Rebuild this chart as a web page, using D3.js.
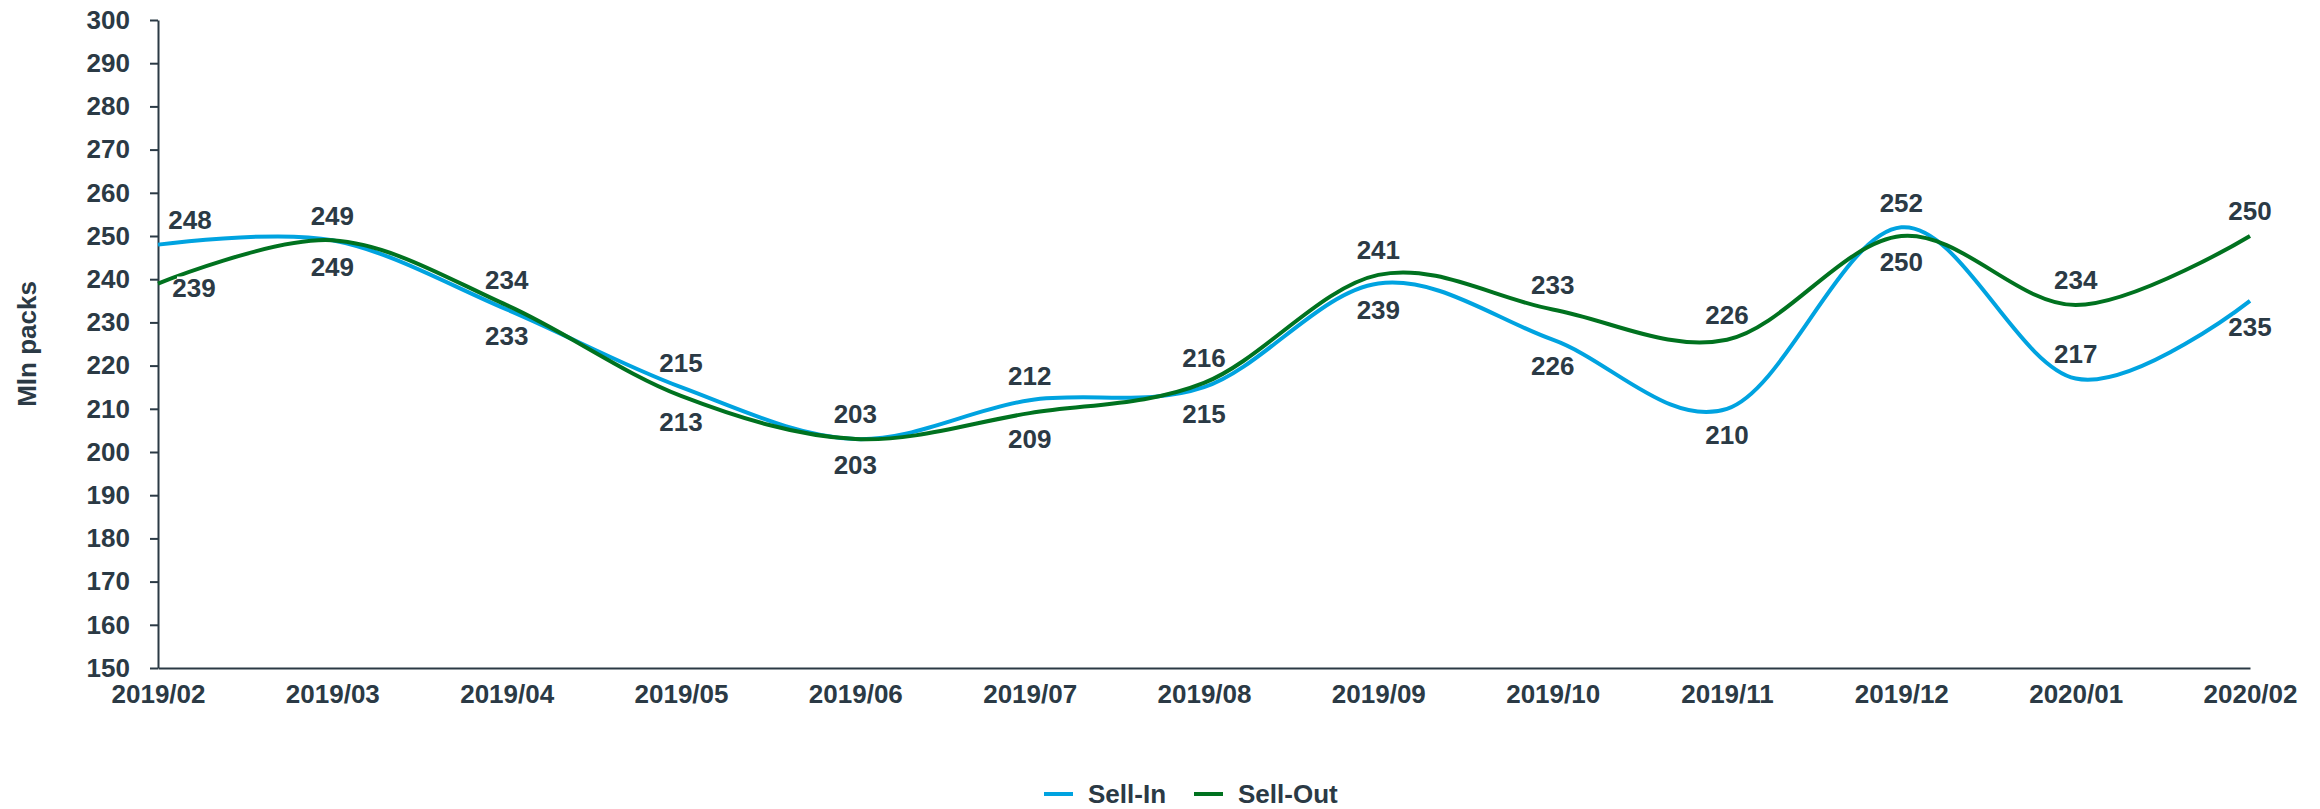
<!DOCTYPE html>
<html>
<head>
<meta charset="utf-8">
<script src="https://cdn.jsdelivr.net/npm/d3@7"></script>
<style>
  body { margin: 0; background: #fff; }
  svg text { font-family: "Liberation Sans", Arial, sans-serif; font-weight: bold; fill: #2b3a45; }
</style>
</head>
<body>
<div id="chart"></div>
<script>
const months = ['2019/02', '2019/03', '2019/04', '2019/05', '2019/06', '2019/07', '2019/08',
                '2019/09', '2019/10', '2019/11', '2019/12', '2020/01', '2020/02'];
const sellIn  = [248, 249, 233, 215, 203, 212, 215, 239, 226, 210, 252, 217, 235];
const sellOut = [239, 249, 234, 213, 203, 209, 216, 241, 233, 226, 250, 234, 250];
const yTicks = d3.range(150, 301, 10);

// where each data label sits relative to its point
const inPlace  = ['above', 'above', 'below', 'above', 'above', 'above', 'below', 'below', 'below', 'below', 'above', 'above', 'below'];
const outPlace = ['right', 'below', 'above', 'below', 'below', 'below', 'above', 'above', 'above', 'above', 'below', 'above', 'above'];

const W = 2320, H = 809;
const margin = { top: 20, right: 70, bottom: 141, left: 158 };
const COL_IN = '#00a3e0', COL_OUT = '#00721f', INK = '#2b3a45';

const svg = d3.select('#chart').append('svg')
    .attr('width', W)
    .attr('height', H);

const x = d3.scalePoint()
    .domain(months)
    .range([margin.left, W - margin.right]);

const y = d3.scaleLinear()
    .domain([150, 300])
    .range([H - margin.bottom, margin.top]);

// y axis
const yAxis = svg.append('g')
    .attr('transform', `translate(${margin.left},0)`)
    .call(d3.axisLeft(y).tickValues(yTicks).tickSize(8).tickPadding(20).tickSizeOuter(0));
yAxis.select('.domain').attr('stroke', INK).attr('stroke-width', 2);
yAxis.selectAll('.tick line').attr('stroke', INK).attr('stroke-width', 2);
yAxis.selectAll('.tick text').attr('font-size', 26).attr('fill', INK);

// x axis
const xAxis = svg.append('g')
    .attr('transform', `translate(0,${H - margin.bottom})`)
    .call(d3.axisBottom(x).tickSize(0).tickPadding(17));
xAxis.select('.domain').attr('stroke', INK).attr('stroke-width', 2);
xAxis.selectAll('.tick text').attr('font-size', 26).attr('fill', INK);

svg.append('text')
    .attr('transform', `translate(27,${(margin.top + H - margin.bottom) / 2}) rotate(-90)`)
    .attr('text-anchor', 'middle')
    .attr('dy', '0.35em')
    .attr('font-size', 26)
    .text('Mln packs');

const line = d3.line()
    .x((d, i) => x(months[i]))
    .y(d => y(d))
    .curve(d3.curveCatmullRom.alpha(0));

const series = [
  { name: 'Sell-In', values: sellIn, color: COL_IN, place: inPlace },
  { name: 'Sell-Out', values: sellOut, color: COL_OUT, place: outPlace }
];

series.forEach(s => {
  svg.append('path')
      .datum(s.values)
      .attr('fill', 'none')
      .attr('stroke', s.color)
      .attr('stroke-width', 4)
      .attr('d', line);
});

// data labels with white boxes
const labels = [];
series.forEach(s => {
  s.values.forEach((v, i) => {
    const p = s.place[i];
    let dx = 0, dy = 0;
    if (p === 'above') dy = -25;
    else if (p === 'below') dy = 26;
    else if (p === 'right') { dx = 36; dy = 4; }
    if (i === 0 && p !== 'right') dx = 32;
    labels.push({ v, cx: x(months[i]) + dx, cy: y(v) + dy });
  });
});

const lg = svg.append('g').selectAll('g')
    .data(labels)
    .join('g')
    .attr('transform', d => `translate(${d.cx},${d.cy})`);
lg.append('rect')
    .attr('x', -17).attr('y', -11)
    .attr('width', 34).attr('height', 22)
    .attr('fill', '#fff');
lg.append('text')
    .attr('text-anchor', 'middle')
    .attr('dy', '0.36em')
    .attr('font-size', 26)
    .text(d => d.v);

// legend
const legend = svg.append('g').attr('transform', `translate(0,794)`);
const legItems = [
  { name: 'Sell-In', color: COL_IN, x: 1044 },
  { name: 'Sell-Out', color: COL_OUT, x: 1194 }
];
legItems.forEach(d => {
  legend.append('line')
      .attr('x1', d.x).attr('x2', d.x + 29)
      .attr('y1', 0).attr('y2', 0)
      .attr('stroke', d.color)
      .attr('stroke-width', 4);
  legend.append('text')
      .attr('x', d.x + 44)
      .attr('dy', '0.36em')
      .attr('font-size', 26)
      .text(d.name);
});
</script>
</body>
</html>
